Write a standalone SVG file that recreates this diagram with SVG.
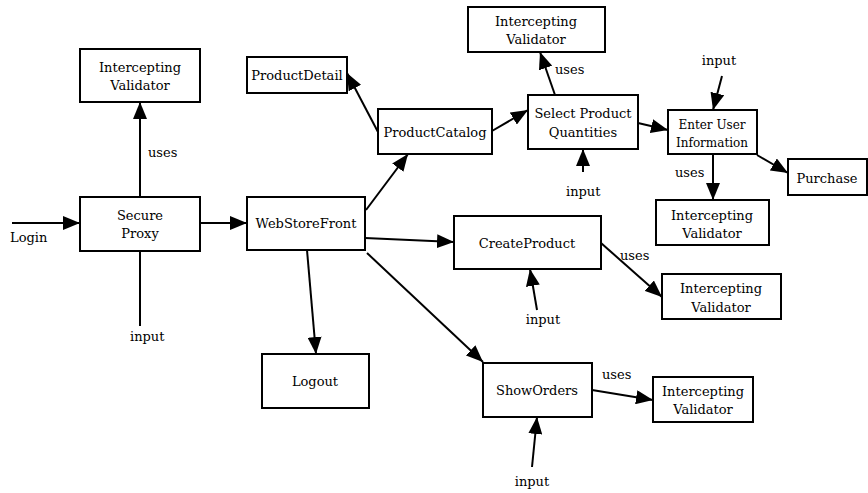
<svg xmlns="http://www.w3.org/2000/svg" width="868" height="493" viewBox="0 0 868 493">
<style>
.box{fill:#fff;stroke:#000;stroke-width:2}
.t{font-family:"DejaVu Serif",serif;font-size:13px;fill:#000}
.c{text-anchor:middle}
.sm{font-size:12px}
.edge{stroke:#000;stroke-width:2;fill:none}
.arr{marker-end:url(#ah)}
</style>
<defs>
<marker id="ah" markerUnits="userSpaceOnUse" markerWidth="17" markerHeight="14" refX="17" refY="7" orient="auto">
<path d="M0,0 L17,7 L0,14 z" fill="#000"/>
</marker>
</defs>
<rect width="868" height="493" fill="#fff"/>
<g id="connectors">
<line class="edge arr" x1="12" y1="223" x2="80" y2="223"/>
<line class="edge arr" x1="140" y1="197" x2="140" y2="102"/>
<line class="edge" x1="140" y1="326" x2="140" y2="251"/>
<line class="edge arr" x1="200" y1="223" x2="247" y2="223"/>
<line class="edge arr" x1="366" y1="210" x2="408" y2="154"/>
<line class="edge arr" x1="378" y1="132" x2="347" y2="73"/>
<line class="edge arr" x1="492" y1="131" x2="528" y2="110"/>
<line class="edge arr" x1="555" y1="95" x2="540" y2="52"/>
<line class="edge arr" x1="583" y1="172" x2="583" y2="149"/>
<line class="edge arr" x1="638" y1="123" x2="668" y2="130"/>
<line class="edge arr" x1="722" y1="76" x2="713" y2="110"/>
<line class="edge arr" x1="713" y1="154" x2="713" y2="200"/>
<line class="edge arr" x1="757" y1="155" x2="788" y2="173"/>
<line class="edge arr" x1="365" y1="238" x2="454" y2="242"/>
<line class="edge arr" x1="601" y1="243" x2="662" y2="297"/>
<line class="edge arr" x1="537" y1="310" x2="530" y2="269"/>
<line class="edge arr" x1="367" y1="253" x2="483" y2="362"/>
<line class="edge arr" x1="592" y1="390" x2="653" y2="400"/>
<line class="edge arr" x1="532" y1="467" x2="537" y2="417"/>
<line class="edge arr" x1="307" y1="250" x2="316" y2="354"/>
</g>
<g id="labels">
<text class="t" x="10" y="242">Login</text>
<text class="t" x="148" y="157">uses</text>
<text class="t" x="130" y="341">input</text>
<text class="t" x="555" y="74">uses</text>
<text class="t" x="566" y="196">input</text>
<text class="t c" x="719" y="65">input</text>
<text class="t" x="675" y="177">uses</text>
<text class="t" x="620" y="260">uses</text>
<text class="t c" x="543" y="324">input</text>
<text class="t" x="602" y="379">uses</text>
<text class="t c" x="532" y="486">input</text>
</g>
<g id="iv1"><rect class="box" x="80" y="49" width="120" height="53"/><text class="t c" x="140" y="72">Intercepting</text><text class="t c" x="140" y="90">Validator</text></g>
<g id="secureProxy"><rect class="box" x="80" y="197" width="120" height="54"/><text class="t c" x="140" y="220">Secure</text><text class="t c" x="140" y="238">Proxy</text></g>
<g id="webStoreFront"><rect class="box" x="247" y="197" width="118" height="53"/><text class="t c" x="306" y="228">WebStoreFront</text></g>
<g id="productDetail"><rect class="box" x="247" y="57" width="100" height="36"/><text class="t c" x="297" y="80">ProductDetail</text></g>
<g id="productCatalog"><rect class="box" x="378" y="109" width="114" height="45"/><text class="t c" x="435" y="137">ProductCatalog</text></g>
<g id="iv2"><rect class="box" x="468" y="7" width="137" height="45"/><text class="t c" x="536" y="26">Intercepting</text><text class="t c" x="536" y="44">Validator</text></g>
<g id="selectProductQuantities"><rect class="box" x="528" y="95" width="110" height="54"/><text class="t c" x="583" y="118">Select Product</text><text class="t c" x="583" y="137">Quantities</text></g>
<g id="enterUserInformation"><rect class="box" x="668" y="110" width="89" height="44"/><text class="t c sm" x="712" y="129">Enter User</text><text class="t c sm" x="712" y="147">Information</text></g>
<g id="iv3"><rect class="box" x="656" y="200" width="113" height="45"/><text class="t c" x="712" y="220">Intercepting</text><text class="t c" x="712" y="238">Validator</text></g>
<g id="purchase"><rect class="box" x="788" y="159" width="79" height="36"/><text class="t c" x="827" y="183">Purchase</text></g>
<g id="createProduct"><rect class="box" x="454" y="216" width="147" height="53"/><text class="t c" x="527" y="248">CreateProduct</text></g>
<g id="iv4"><rect class="box" x="662" y="274" width="119" height="45"/><text class="t c" x="721" y="293">Intercepting</text><text class="t c" x="721" y="312">Validator</text></g>
<g id="showOrders"><rect class="box" x="483" y="363" width="109" height="54"/><text class="t c" x="537" y="395">ShowOrders</text></g>
<g id="iv5"><rect class="box" x="653" y="377" width="100" height="45"/><text class="t c" x="703" y="396">Intercepting</text><text class="t c" x="703" y="414">Validator</text></g>
<g id="logout"><rect class="box" x="262" y="354" width="107" height="54"/><text class="t c" x="315" y="386">Logout</text></g>
</svg>
